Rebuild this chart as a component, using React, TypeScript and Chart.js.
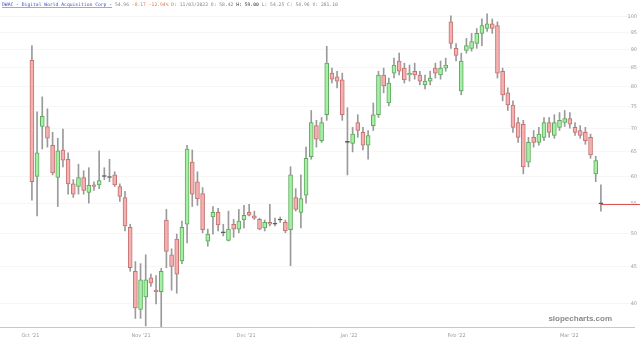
import React, { useEffect, useRef } from "react";
import { Chart, registerables } from "chart.js";
Chart.register(...registerables);

const OPEN = [
  87.0, 60.0, 70.4, 70.4, 66.3, 59.8, 65.3, 63.4, 58.6, 58.1,
  59.8, 57.0, 58.4, 58.4, 60.0, 59.8, 60.3, 58.1, 56.1, 51.0,
  44.3, 39.2, 40.8, 43.4, 41.7, 41.5, 52.2, 46.7, 49.1, 45.8,
  51.5, 62.8, 59.0, 56.8, 48.8, 52.7, 53.5, 50.1, 48.9, 51.5,
  50.7, 52.2, 53.5, 52.9, 52.3, 50.9, 51.8, 51.5, 52.2, 51.8,
  50.6, 56.1, 53.5, 56.5, 63.9, 70.6, 67.3, 73.1, 83.5, 82.5,
  81.7, 66.9, 66.7, 71.3, 69.1, 66.3, 70.6, 73.1, 83.0, 75.9,
  83.5, 86.8, 84.85, 83.0, 84.0, 83.0, 80.4, 81.4, 84.85, 83.0,
  84.85, 98.4, 90.4, 78.9, 89.8, 90.4, 91.8, 94.8, 96.3, 97.8,
  97.2, 84.0, 78.4, 75.4, 71.3, 70.9, 62.8, 68.0, 66.9, 68.0,
  71.3, 68.4, 70.2, 71.3, 72.2, 70.2, 69.5, 69.1, 68.0, 60.5,
  54.96,
];
const HIGH = [
  91.2, 73.8, 77.4, 74.5, 69.1, 67.8, 69.8, 64.7, 59.4, 62.4,
  61.1, 61.7, 59.0, 65.1, 61.7, 63.4, 60.9, 58.6, 57.2, 51.5,
  45.7, 45.4, 46.7, 43.9, 43.7, 44.7, 54.0, 47.6, 49.9, 52.0,
  66.3, 65.3, 60.9, 57.9, 50.7, 54.5, 54.2, 51.5, 53.7, 52.3,
  54.0, 54.7, 54.9, 53.7, 52.5, 52.2, 54.9, 52.5, 52.7, 52.2,
  61.9, 57.7, 60.3, 65.9, 74.1, 71.8, 72.45, 91.0, 84.85, 84.0,
  83.5, 74.75, 70.2, 73.1, 70.2, 69.5, 75.9, 84.0, 84.85, 82.2,
  87.6, 89.0, 86.2, 85.7, 86.2, 84.0, 83.0, 84.0, 86.2, 86.8,
  87.6, 100.3, 91.8, 89.0, 93.3, 94.8, 96.3, 99.3, 100.9, 99.3,
  98.4, 84.85, 79.65, 76.4, 72.45, 71.8, 68.0, 69.5, 70.2, 72.45,
  72.45, 73.1, 73.6, 74.1, 73.6, 71.3, 70.6, 70.2, 68.7, 64.0,
  58.4,
];
const LOW = [
  55.6, 52.9, 65.5, 65.9, 60.3, 54.5, 61.85, 56.7, 56.1, 56.7,
  56.7, 55.1, 57.4, 57.7, 59.4, 59.0, 58.1, 55.4, 50.4, 44.3,
  38.1, 38.1, 37.2, 42.2, 39.9, 36.8, 44.8, 41.7, 41.3, 45.4,
  48.5, 54.5, 54.7, 50.1, 48.0, 49.9, 50.4, 49.6, 48.8, 49.4,
  50.1, 50.9, 52.9, 52.3, 50.6, 50.4, 51.2, 51.2, 51.8, 50.1,
  45.1, 53.7, 50.9, 55.1, 63.4, 65.9, 66.9, 71.8, 80.9, 79.65,
  71.8, 60.3, 64.9, 68.0, 65.3, 63.4, 69.5, 72.45, 78.4, 75.2,
  82.2, 83.0, 80.9, 81.4, 81.9, 80.4, 79.4, 80.4, 82.2, 81.9,
  84.0, 90.4, 86.8, 77.9, 89.0, 89.6, 90.4, 91.2, 95.4, 94.8,
  82.2, 76.4, 74.1, 69.1, 66.9, 60.5, 61.85, 65.9, 66.3, 67.3,
  68.0, 67.8, 69.5, 70.4, 70.0, 68.4, 67.8, 66.5, 63.6, 59.0,
  53.7,
];
const CLOSE = [
  59.0, 64.7, 72.7, 67.8, 60.7, 65.1, 63.2, 58.6, 56.7, 59.8,
  57.4, 58.3, 58.1, 59.2, 60.0, 59.8, 58.4, 56.3, 51.2, 44.8,
  39.4, 43.1, 43.1, 42.7, 41.5, 44.3, 47.2, 45.0, 43.9, 51.0,
  65.5, 56.7, 55.9, 50.6, 49.9, 53.5, 51.4, 50.1, 50.7, 50.7,
  52.0, 53.0, 53.0, 52.5, 50.7, 51.8, 51.5, 51.5, 52.2, 50.4,
  60.3, 54.0, 55.9, 63.6, 71.3, 67.6, 71.3, 86.2, 81.9, 81.4,
  73.1, 66.9, 68.7, 69.5, 66.3, 68.4, 73.1, 83.0, 80.15, 80.9,
  85.7, 84.0, 81.7, 83.5, 83.0, 81.4, 81.4, 82.2, 83.5, 84.85,
  85.7, 91.8, 88.4, 86.8, 91.2, 92.4, 94.8, 97.2, 97.8, 96.3,
  83.5, 77.9, 75.4, 70.2, 68.0, 61.85, 66.9, 66.9, 68.7, 71.3,
  69.1, 71.3, 71.8, 72.2, 70.9, 69.1, 68.4, 67.3, 64.3, 63.13,
  54.96,
];

const Y_TICKS = [40, 45, 50, 55, 60, 65, 70, 75, 80, 85, 90, 95, 100];
const X_TICK_POS = [-0.3, 21.1, 41.4, 61.3, 82.1, 103.9];
const X_TICK_LABELS = ["Oct '21", "Nov '21", "Dec '21", "Jan '22", "Feb '22", "Mar '22"];

const SYMBOL_TEXT = "DWAC - Digital World Acquisition Corp -";
const LAST_TEXT = "54.96";
const CHANGE_TEXT = "-8.17 -12.94%";
const DATE_TEXT = "D: 11/03/2022 O: 58.42";
const HIGH_TEXT = "H: 59.00";
const REST_TEXT = "L: 54.25 C: 54.96 V: 281.10";
const WATERMARK = "slopecharts.com";

const UP_FILL = "#a6f0a6";
const UP_BORDER = "#5da85d";
const DOWN_FILL = "#f5b0b0";
const DOWN_BORDER = "#c47272";
const DOJI = "#555555";
const WICK = "#9a9a9a";

export default function App() {
  const ref = useRef<HTMLCanvasElement | null>(null);
  useEffect(() => {
    document.body.style.margin = "0";
    const canvas = ref.current;
    if (!canvas) return;
    const n = CLOSE.length;
    const bodies = CLOSE.map((c, i) => ({ x: i, y: [Math.min(OPEN[i], c), Math.max(OPEN[i], c)] }));
    const wicks = CLOSE.map((_, i) => ({ x: i, y: [LOW[i], HIGH[i]] }));
    const fill = CLOSE.map((c, i) => (c > OPEN[i] ? UP_FILL : c < OPEN[i] ? DOWN_FILL : DOJI));
    const border = CLOSE.map((c, i) => (c > OPEN[i] ? UP_BORDER : c < OPEN[i] ? DOWN_BORDER : DOJI));

    const overlay = {
      id: "overlay",
      afterDraw(chart: any) {
        const ctx = chart.ctx;
        const xs = chart.scales.x;
        const ys = chart.scales.y;
        const area = chart.chartArea;
        ctx.save();
        // x tick labels
        ctx.font = "5px 'DejaVu Sans', sans-serif";
        ctx.fillStyle = "#9a9aa8";
        ctx.textAlign = "center";
        ctx.textBaseline = "middle";
        X_TICK_POS.forEach((p, i) => {
          ctx.fillText(X_TICK_LABELS[i], xs.getPixelForValue(p), area.bottom + 9);
        });
        // last price line
        const yLast = Math.round(ys.getPixelForValue(CLOSE[n - 1])) + 0.5;
        const xLast = xs.getPixelForValue(n - 1);
        ctx.strokeStyle = "#e05050";
        ctx.lineWidth = 1;
        ctx.beginPath();
        ctx.moveTo(xLast, yLast);
        ctx.lineTo(chart.width, yLast);
        ctx.stroke();
        // watermark
        ctx.font = "bold 8px 'Liberation Sans', sans-serif";
        ctx.fillStyle = "#8a8a8a";
        ctx.textAlign = "right";
        ctx.textBaseline = "alphabetic";
        ctx.fillText(WATERMARK, 612, 321);
        // header
        ctx.font = "4.7px 'DejaVu Sans Mono', monospace";
        ctx.textAlign = "left";
        ctx.textBaseline = "middle";
        let x = 2;
        const y = 5;
        const seg = (t: string, color: string) => {
          ctx.fillStyle = color;
          ctx.fillText(t, x, y);
          const w = ctx.measureText(t).width;
          x += w;
          return w;
        };
        const w0 = seg(SYMBOL_TEXT, "#3b4bc8");
        ctx.strokeStyle = "#3b4bc8";
        ctx.lineWidth = 0.5;
        ctx.beginPath();
        ctx.moveTo(2, y + 2.5);
        ctx.lineTo(2 + w0, y + 2.5);
        ctx.stroke();
        seg(" " + LAST_TEXT + " ", "#888888");
        seg(CHANGE_TEXT, "#e07a5a");
        seg(" " + DATE_TEXT + " ", "#888888");
        seg(HIGH_TEXT, "#333333");
        seg(" " + REST_TEXT, "#888888");
        ctx.restore();
      },
    };

    const chart = new Chart(canvas, {
      type: "bar",
      data: {
        datasets: [
          {
            data: bodies as any,
            backgroundColor: fill,
            borderColor: border,
            borderWidth: 1,
            borderSkipped: false,
            barThickness: 4,
            minBarLength: 1,
            grouped: false,
            order: 0,
          } as any,
          {
            data: wicks as any,
            backgroundColor: WICK,
            borderWidth: 0,
            barThickness: 1,
            grouped: false,
            order: 1,
          } as any,
        ],
      },
      options: {
        responsive: false,
        animation: false,
        devicePixelRatio: 1,
        layout: { padding: { top: 2, bottom: 16, left: 0, right: 0 } },
        plugins: { legend: { display: false }, tooltip: { enabled: false } },
        scales: {
          x: {
            type: "linear",
            offset: false,
            min: -6.17,
            max: 116.4,
            grid: { display: false, drawTicks: false },
            border: { display: true, color: "#c8c8c8" },
            ticks: { display: false },
          },
          y: {
            type: "logarithmic",
            position: "right",
            min: 37.07,
            max: 103.5,
            grid: { display: true, drawTicks: false, color: "rgba(0,0,0,0.035)" },
            border: { display: false },
            afterBuildTicks: (axis: any) => {
              axis.ticks = Y_TICKS.map((v) => ({ value: v }));
            },
            ticks: {
              mirror: true,
              padding: 3,
              color: "#9a9aa8",
              font: { size: 5, family: "'DejaVu Sans', sans-serif" },
              callback: (v: any) => String(v),
            },
          },
        },
      } as any,
      plugins: [overlay],
    });
    return () => chart.destroy();
  }, []);
  return (
    <div style={{ position: "fixed", left: 0, top: 0, width: 640, height: 343, background: "#fff" }}>
      <canvas ref={ref} width={640} height={343} style={{ display: "block", width: 640, height: 343 }} />
    </div>
  );
}
